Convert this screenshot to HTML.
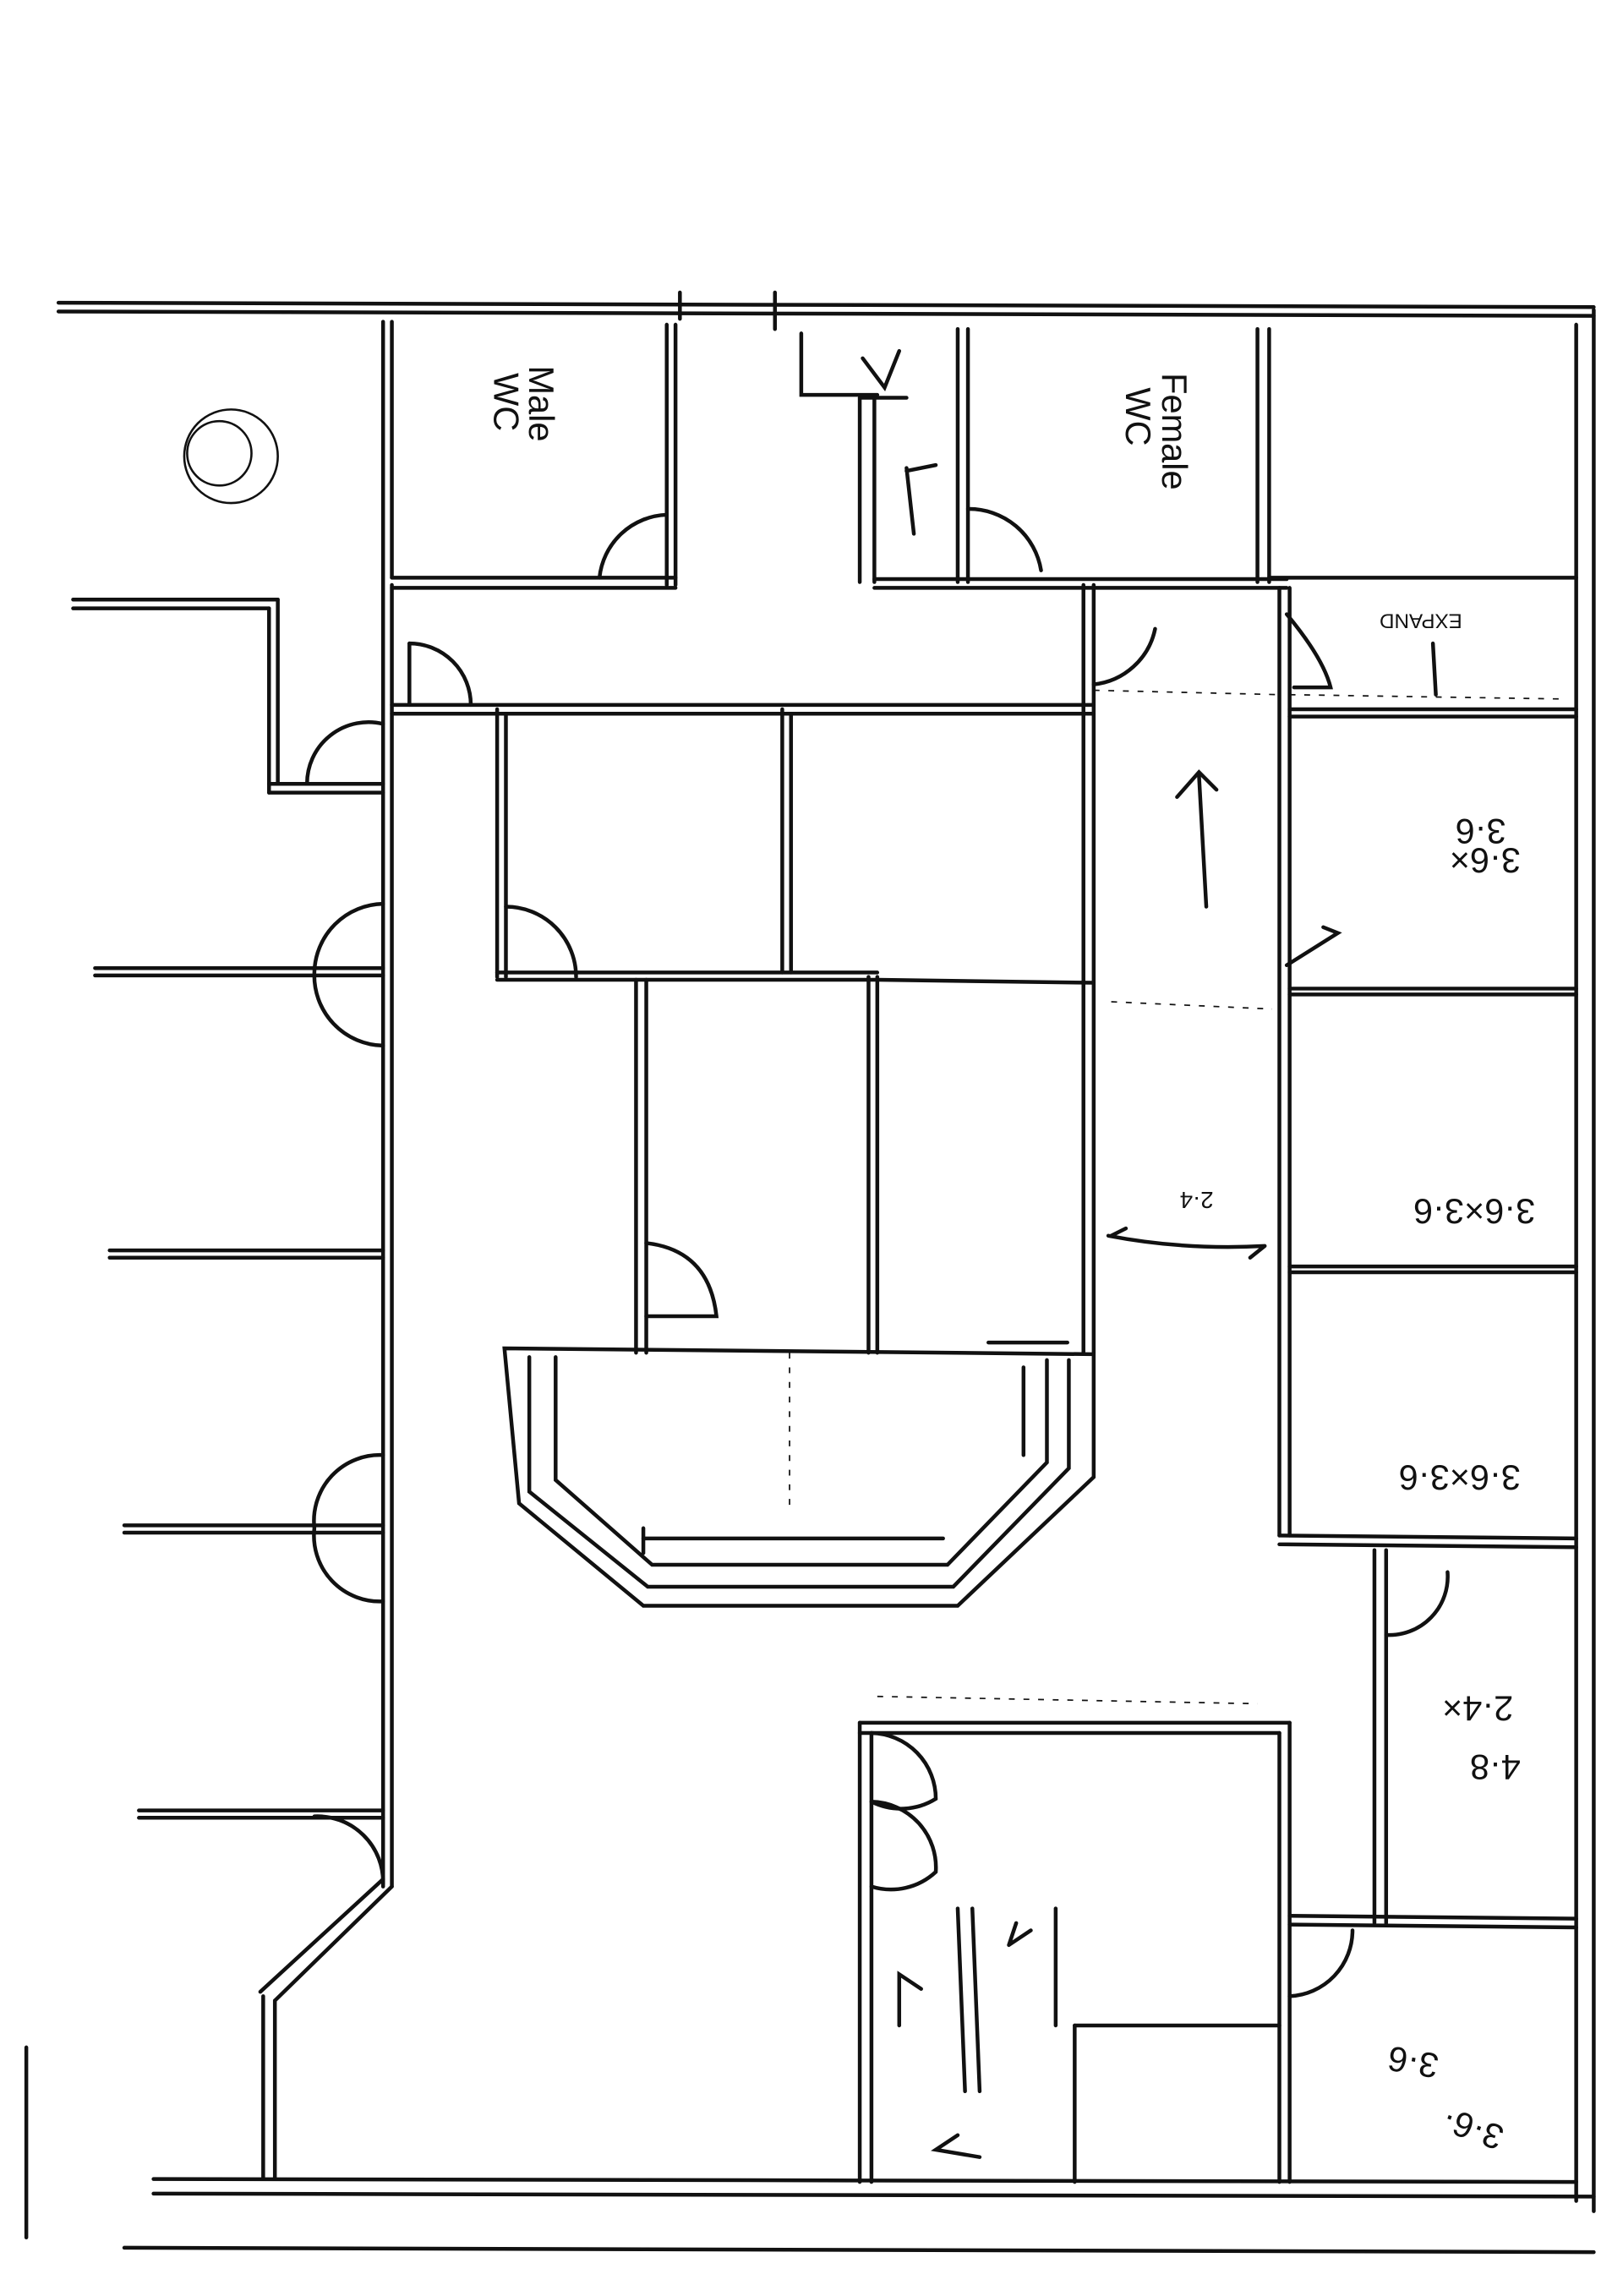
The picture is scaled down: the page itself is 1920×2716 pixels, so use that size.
<!DOCTYPE html>
<html><head><meta charset="utf-8"><style>
html,body{margin:0;padding:0;background:#fff;width:1920px;height:2716px;overflow:hidden}
svg{display:block}
text{font-family:"Liberation Sans",sans-serif;fill:#111}
</style></head><body>
<svg width="1920" height="2716" viewBox="0 0 1110 1570" preserveAspectRatio="none" xmlns="http://www.w3.org/2000/svg">
<g stroke="#111" stroke-width="2.6" fill="none" stroke-linecap="round">
<!-- outer top -->
<line x1="40" y1="207" x2="1090" y2="210"/>
<line x1="40" y1="213" x2="1090" y2="216"/>
<!-- right outer -->
<line x1="1078" y1="222" x2="1078" y2="1505"/>
<line x1="1090" y1="212" x2="1090" y2="1512"/>
<!-- bottom -->
<line x1="105" y1="1490" x2="1078" y2="1492"/>
<line x1="105" y1="1500" x2="1090" y2="1502"/>
<line x1="85" y1="1537" x2="1090" y2="1540"/>
<line x1="18" y1="1400" x2="18" y2="1530"/>
<!-- left corridor wall -->
<line x1="262" y1="220" x2="262" y2="1290"/>
<line x1="268" y1="400" x2="268" y2="1290"/>
<line x1="268" y1="1290" x2="188" y2="1368"/>
<line x1="262" y1="1285" x2="178" y2="1362"/>
<line x1="180" y1="1365" x2="180" y2="1490"/>
<line x1="188" y1="1368" x2="188" y2="1490"/>
<!-- male wc -->
<line x1="268" y1="220" x2="268" y2="395"/>
<line x1="456" y1="222" x2="456" y2="400"/>
<line x1="462" y1="222" x2="462" y2="400"/>
<line x1="268" y1="395" x2="462" y2="395"/>
<line x1="268" y1="402" x2="462" y2="402"/>
<path d="M410 395 A48 48 0 0 1 456 352"/>
<line x1="456" y1="352" x2="456" y2="395"/>
<!-- corridor -->
<line x1="268" y1="482" x2="748" y2="482"/>
<line x1="268" y1="488" x2="748" y2="488"/>
<path d="M280 440 A42 42 0 0 1 322 482"/>
<line x1="280" y1="440" x2="280" y2="482"/>
<!-- middle stub -->
<line x1="588" y1="272" x2="588" y2="398"/>
<line x1="598" y1="272" x2="598" y2="398"/>
<line x1="588" y1="272" x2="620" y2="272"/>
<path d="M548 228 L548 270 L600 270"/>
<path d="M590 245 L605 265 L615 240"/>
<path d="M620 320 L625 365 M620 322 L640 318"/>
<!-- female wc -->
<line x1="655" y1="225" x2="655" y2="398"/>
<line x1="662" y1="225" x2="662" y2="398"/>
<line x1="860" y1="225" x2="860" y2="398"/>
<line x1="868" y1="225" x2="868" y2="398"/>
<line x1="598" y1="396" x2="880" y2="396"/>
<line x1="598" y1="402" x2="880" y2="402"/>
<path d="M662 348 A50 50 0 0 1 712 390"/>
<!-- left rooms -->
<line x1="50" y1="410" x2="190" y2="410"/>
<line x1="50" y1="416" x2="184" y2="416"/>
<line x1="184" y1="416" x2="184" y2="542"/>
<line x1="190" y1="410" x2="190" y2="536"/>
<line x1="184" y1="536" x2="262" y2="536"/>
<line x1="184" y1="542" x2="262" y2="542"/>
<path d="M210 536 A42 42 0 0 1 262 495"/>
<line x1="65" y1="662" x2="262" y2="662"/>
<line x1="65" y1="667" x2="262" y2="667"/>
<path d="M262 618 A48 48 0 0 0 215 665 A48 48 0 0 0 262 715"/>
<line x1="75" y1="855" x2="262" y2="855"/>
<line x1="75" y1="860" x2="262" y2="860"/>
<line x1="85" y1="1043" x2="262" y2="1043"/>
<line x1="85" y1="1048" x2="262" y2="1048"/>
<path d="M262 995 A45 45 0 0 0 215 1045 A45 45 0 0 0 262 1095"/>
<line x1="95" y1="1238" x2="262" y2="1238"/>
<line x1="95" y1="1243" x2="262" y2="1243"/>
<path d="M215 1242 A45 45 0 0 1 262 1288"/>
<!-- central rooms -->
<line x1="340" y1="485" x2="340" y2="668"/>
<line x1="346" y1="488" x2="346" y2="668"/>
<path d="M346 620 A48 48 0 0 1 394 668"/>
<line x1="535" y1="485" x2="535" y2="665"/>
<line x1="541" y1="488" x2="541" y2="665"/>
<line x1="340" y1="665" x2="600" y2="665"/>
<line x1="340" y1="670" x2="600" y2="670"/>
<line x1="600" y1="670" x2="748" y2="672"/>
<line x1="435" y1="670" x2="435" y2="925"/>
<line x1="442" y1="670" x2="442" y2="925"/>
<path d="M442 850 Q485 855 490 900 L442 900"/>
<line x1="594" y1="668" x2="594" y2="925"/>
<line x1="600" y1="668" x2="600" y2="925"/>
<line x1="741" y1="400" x2="741" y2="925"/>
<line x1="748" y1="400" x2="748" y2="925"/>
<path d="M748 468 A48 48 0 0 0 790 430"/>
<!-- reception -->
<path d="M345 922 L748 926 L748 1010 L655 1098 L440 1098 L355 1028 Z"/>
<path d="M362 928 L362 1020 L443 1085 L652 1085 L731 1004 L731 930"/>
<path d="M380 928 L380 1012 L446 1070 L648 1070 L716 1000 L716 930"/>
<line x1="440" y1="1052" x2="645" y2="1052"/>
<line x1="700" y1="935" x2="700" y2="995"/>
<line x1="440" y1="1045" x2="440" y2="1062"/>
<line x1="676" y1="918" x2="730" y2="918"/>
<!-- right rooms -->
<line x1="875" y1="402" x2="875" y2="1050"/>
<line x1="882" y1="402" x2="882" y2="1050"/>
<line x1="882" y1="485" x2="1078" y2="485"/>
<line x1="882" y1="490" x2="1078" y2="490"/>
<line x1="882" y1="676" x2="1078" y2="676"/>
<line x1="882" y1="680" x2="1078" y2="680"/>
<line x1="882" y1="866" x2="1078" y2="866"/>
<line x1="882" y1="870" x2="1078" y2="870"/>
<line x1="875" y1="1050" x2="1078" y2="1052"/>
<line x1="875" y1="1056" x2="1078" y2="1058"/>
<line x1="868" y1="395" x2="1078" y2="395"/>
<!-- 4.8 room -->
<line x1="940" y1="1060" x2="940" y2="1315"/>
<line x1="948" y1="1060" x2="948" y2="1315"/>
<line x1="882" y1="1310" x2="1078" y2="1312"/>
<line x1="882" y1="1316" x2="1078" y2="1318"/>
<path d="M948 1118 A40 40 0 0 0 990 1075"/>
<!-- bottom rooms -->
<line x1="588" y1="1178" x2="882" y2="1178"/>
<line x1="588" y1="1185" x2="875" y2="1185"/>
<line x1="588" y1="1178" x2="588" y2="1492"/>
<line x1="596" y1="1185" x2="596" y2="1492"/>
<line x1="875" y1="1185" x2="875" y2="1492"/>
<line x1="882" y1="1178" x2="882" y2="1492"/>
<line x1="735" y1="1385" x2="875" y2="1385"/>
<line x1="735" y1="1385" x2="735" y2="1492"/>
<path d="M596 1185 A45 45 0 0 1 640 1230 A45 45 0 0 1 596 1232"/>
<path d="M596 1232 A45 45 0 0 1 640 1280 A45 45 0 0 1 596 1290"/>
<path d="M882 1365 A45 45 0 0 0 925 1320"/>
<line x1="655" y1="1305" x2="660" y2="1430"/>
<line x1="665" y1="1305" x2="670" y2="1430"/>
<line x1="722" y1="1305" x2="722" y2="1385"/>
<path d="M615 1385 L615 1350 L630 1360"/>
<path d="M690 1330 L695 1315 M690 1330 L705 1320"/>
<path d="M670 1475 L640 1470 L655 1460"/>
<!-- misc marks -->
<path d="M820 530 L825 620 M805 545 L820 528 L832 540"/>
<path d="M880 660 L915 638 L905 634"/>
<path d="M758 845 Q810 855 865 852 M760 845 L770 840 M865 852 L855 860"/>
<path d="M880 420 Q905 450 910 470 L885 470"/>
<line x1="980" y1="440" x2="982" y2="475"/>
<circle cx="158" cy="312" r="32" stroke-width="1.5"/>
<circle cx="150" cy="310" r="22" stroke-width="1.5"/>
<line x1="465" y1="200" x2="465" y2="218"/>
<line x1="530" y1="200" x2="530" y2="225"/>
</g>
<g stroke="#111" stroke-width="1" stroke-dasharray="4 6" fill="none">
<line x1="748" y1="472" x2="875" y2="475"/>
<line x1="760" y1="685" x2="870" y2="690"/>
<line x1="600" y1="1160" x2="860" y2="1165"/>
<line x1="882" y1="475" x2="1070" y2="478"/>
<line x1="540" y1="925" x2="540" y2="1030"/>
</g>
<g font-size="24">
<text transform="translate(362,250) rotate(90)">Male</text>
<text transform="translate(338,255) rotate(90)">WC</text>
<text transform="translate(795,255) rotate(90)">Female</text>
<text transform="translate(770,265) rotate(90)">WC</text>
<text transform="translate(1040,580) rotate(180)">3·6×</text>
<text transform="translate(1030,560) rotate(180)">3·6</text>
<text transform="translate(1050,820) rotate(180)">3·6×3·6</text>
<text transform="translate(1040,1002) rotate(180)">3·6×3·6</text>
<text transform="translate(1035,1160) rotate(180)">2·4×</text>
<text transform="translate(1040,1200) rotate(180)">4·8</text>
<text transform="translate(1030,1455) rotate(200)">3·6·</text>
<text transform="translate(985,1405) rotate(190)">3·6</text>
<text font-size="16" transform="translate(830,815) rotate(180)">2·4</text>
<text font-size="14" transform="translate(1000,420) rotate(180)">EXPAND</text>
</g>
</svg>
</body></html>
